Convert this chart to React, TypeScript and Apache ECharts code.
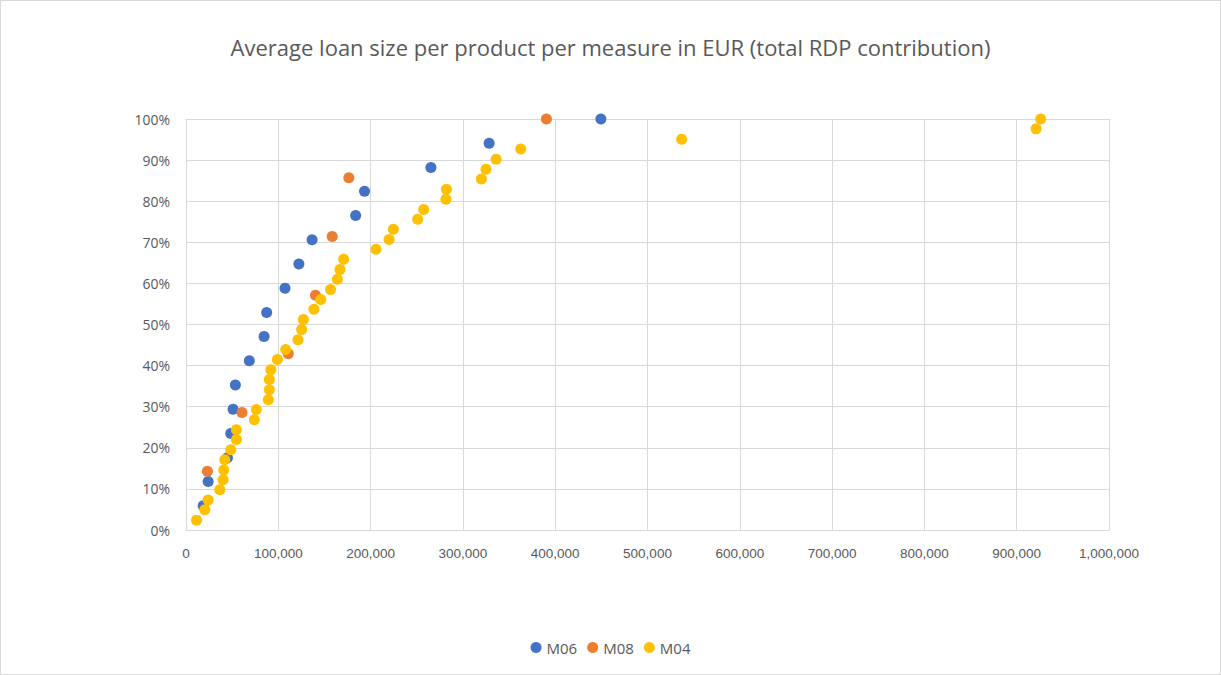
import React, { useEffect, useRef } from "react";
import * as echarts from "echarts";

const title = "Average loan size per product per measure in EUR (total RDP contribution)";

const seriesNames = ["M06", "M08", "M04"];
const seriesColors = ["#4472C4", "#ED7D31", "#FFC000"];

// M06: loan size (EUR) and cumulative share (%)
const m06X = [18600, 24000, 44900, 48500, 51000, 53500, 68600, 84600, 87400, 107300, 122300, 136600, 183800, 193400, 265400, 328400, 449500];
const m06Y = [5.9, 11.8, 17.6, 23.5, 29.4, 35.3, 41.2, 47.1, 52.9, 58.8, 64.7, 70.6, 76.5, 82.4, 88.2, 94.1, 100];

// M08
const m08X = [23200, 60700, 110800, 140300, 158400, 176400, 390500];
const m08Y = [14.3, 28.6, 42.9, 57.1, 71.4, 85.7, 100];

// M04
const m04X = [11400, 20400, 24000, 36600, 40200, 40900, 42000, 48500, 54600, 54600, 74000, 76200, 89200, 90300, 90300, 92000, 99000, 108000, 121300, 125300, 127200, 138600, 146000, 156600, 164000, 166800, 170800, 205800, 220000, 224700, 251000, 257500, 281600, 282200, 320000, 325000, 336000, 362700, 537000, 921000, 926000];
const m04Y = [2.4, 4.9, 7.3, 9.8, 12.2, 14.6, 17.1, 19.5, 22.0, 24.4, 26.8, 29.3, 31.7, 34.1, 36.6, 39.0, 41.5, 43.9, 46.3, 48.8, 51.2, 53.7, 56.1, 58.5, 61.0, 63.4, 65.9, 68.3, 70.7, 73.2, 75.6, 78.0, 80.5, 82.9, 85.4, 87.8, 90.2, 92.7, 95.1, 97.6, 100];

const xs = [m06X, m08X, m04X];
const ys = [m06Y, m08Y, m04Y];

export default function App() {
  const ref = useRef<HTMLDivElement>(null);
  useEffect(() => {
    if (!ref.current) return;
    const chart = echarts.init(ref.current, null, { renderer: "svg" });
    const gray = "#595959";
    const grid = "#d9d9d9";
    chart.setOption({
      animation: false,
      backgroundColor: "#ffffff",
      title: {
        text: title,
        left: "center",
        top: 30,
        textStyle: { fontFamily: "Open Sans", fontSize: 22, fontWeight: "normal", color: gray },
      },
      legend: {
        bottom: 14,
        left: "center",
        icon: "circle",
        itemWidth: 11,
        itemHeight: 11,
        itemGap: 10,
        textStyle: { fontFamily: "Open Sans", fontSize: 15, color: gray },
        data: seriesNames,
      },
      grid: { left: 185, right: 111, top: 118, bottom: 144 },
      xAxis: {
        type: "value",
        min: 0,
        max: 1000000,
        interval: 100000,
        axisLine: { show: true, lineStyle: { color: grid } },
        axisTick: { show: false },
        splitLine: { show: true, lineStyle: { color: grid, width: 1 } },
        axisLabel: {
          color: gray,
          fontFamily: "Liberation Sans Narrow, Liberation Sans",
          fontSize: 13.5,
          margin: 16,
          formatter: (v: number) => v.toLocaleString("en-US"),
        },
      },
      yAxis: {
        type: "value",
        min: 0,
        max: 100,
        interval: 10,
        axisLine: { show: false },
        axisTick: { show: false },
        splitLine: { show: true, lineStyle: { color: grid, width: 1 } },
        axisLabel: {
          color: gray,
          fontFamily: "Open Sans",
          fontSize: 14,
          margin: 16,
          formatter: (v: number) => `${v}%`,
        },
      },
      series: seriesNames.map((name, i) => ({
        name,
        type: "scatter",
        symbol: "circle",
        symbolSize: 11,
        itemStyle: { color: seriesColors[i], opacity: 1 },
        data: xs[i].map((x, j) => [x, ys[i][j]]),
      })),
    });
    return () => chart.dispose();
  }, []);
  return (
    <div
      style={{
        position: "absolute",
        left: 0,
        top: 0,
        width: 1221,
        height: 675,
        boxSizing: "border-box",
        border: "1px solid #d9d9d9",
        background: "#fff",
      }}
    >
      <div ref={ref} style={{ width: 1219, height: 673 }} />
    </div>
  );
}
